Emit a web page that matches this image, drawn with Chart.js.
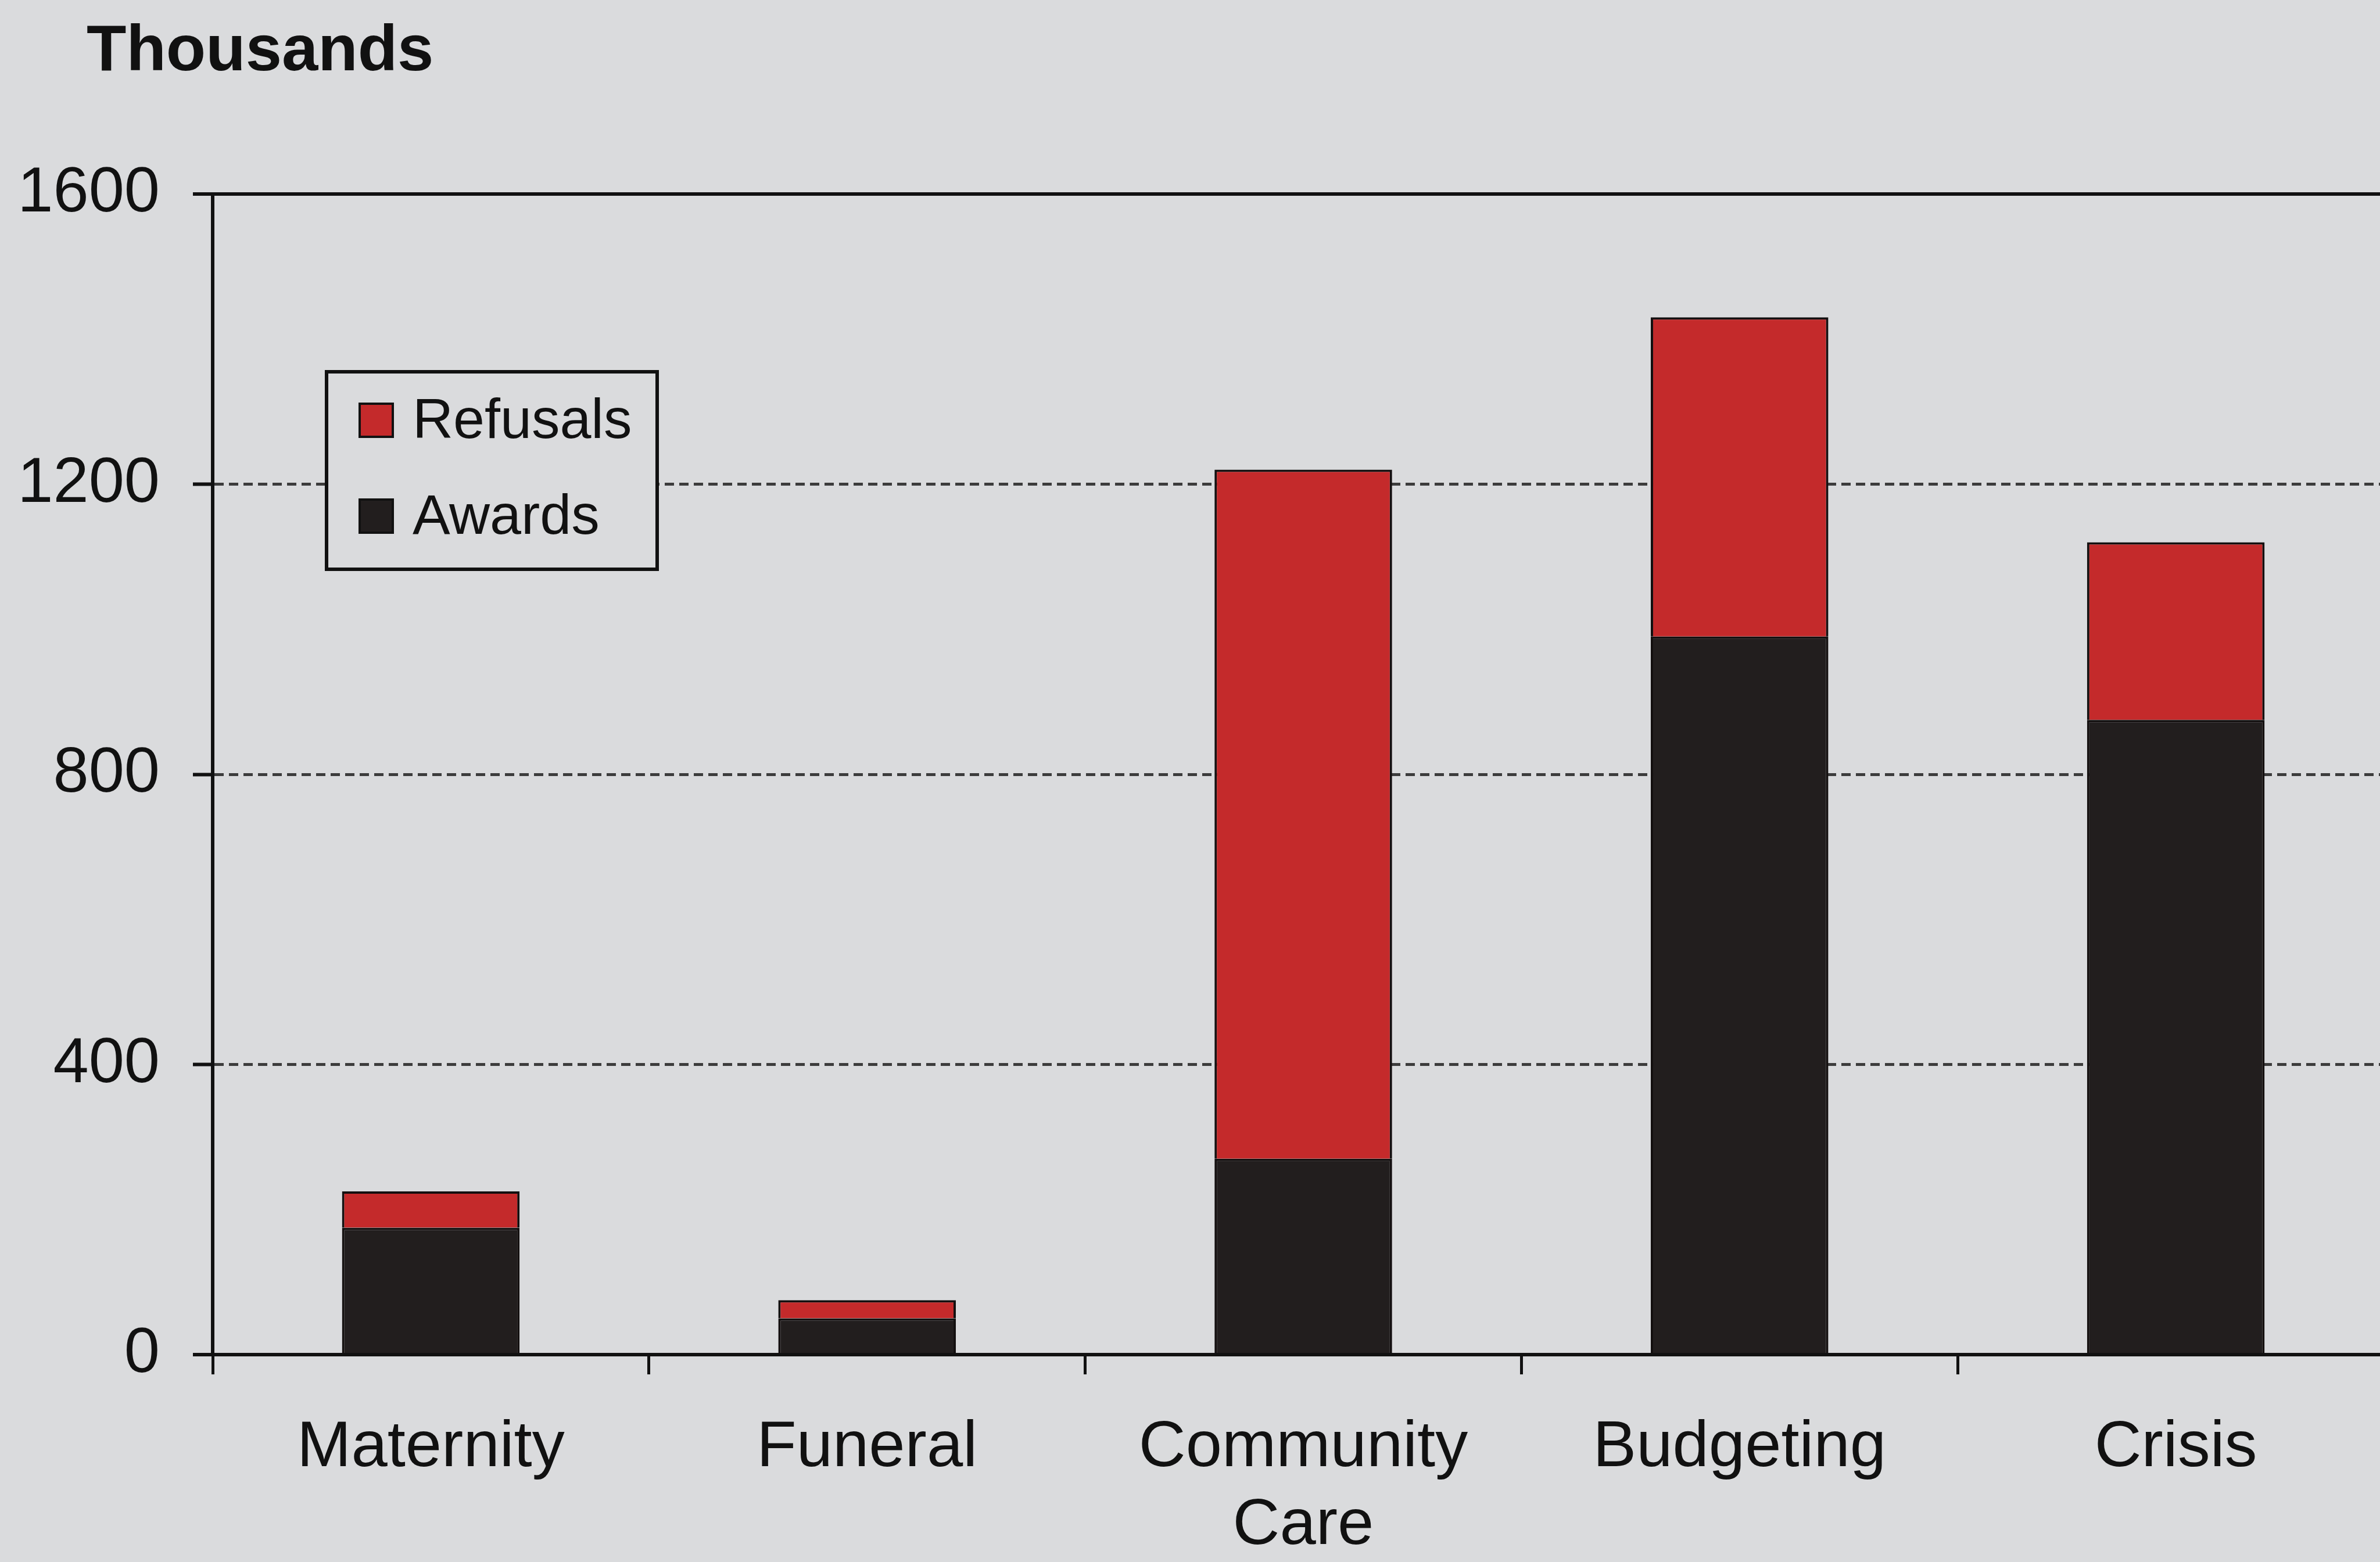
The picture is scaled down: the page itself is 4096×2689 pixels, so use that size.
<!DOCTYPE html>
<html>
<head>
<meta charset="utf-8">
<script src="https://cdn.jsdelivr.net/npm/chart.js@4/dist/chart.umd.min.js"></script>
<style>
  html, body { margin: 0; padding: 0; overflow: hidden; background: #dadbdd; }
  #wrap { width: 4125px; height: 2689px; }
</style>
</head>
<body>
<div id="wrap"><canvas id="chart" width="4125" height="2689"></canvas></div>
<script>
// claims in thousands
var categories = [['Maternity'], ['Funeral'], ['Community', 'Care'], ['Budgeting'], ['Crisis']];
var awards   = [175, 50, 270, 990, 875];
var refusals = [50, 25, 950, 440, 245];
var yTicks   = [0, 400, 800, 1200, 1600];

var RED  = '#c42a2b';
var DARK = '#221e1e';
var INK  = '#111';
var FONT = '"Liberation Sans", Arial, sans-serif';

// boxed legend sitting inside the plot, refusals listed first
var boxLegend = {
	id: 'boxLegend',
	afterDraw: function(chart) {
		var ctx = chart.ctx;
		var x = 562, y = 640, w = 569, h = 340;
		ctx.save();
		ctx.fillStyle = '#dadbdd';
		ctx.fillRect(x, y, w, h);
		ctx.lineWidth = 6;
		ctx.strokeStyle = INK;
		ctx.strokeRect(x, y, w, h);
		var items = chart.data.datasets.slice().reverse();
		ctx.font = '97px ' + FONT;
		ctx.textBaseline = 'middle';
		for (var i = 0; i < items.length; i++) {
			var cy = 723 + i * 165;
			ctx.fillStyle = items[i].backgroundColor;
			ctx.fillRect(619, cy - 28, 57, 57);
			ctx.lineWidth = 4;
			ctx.strokeStyle = INK;
			ctx.strokeRect(619, cy - 28, 57, 57);
			ctx.fillStyle = INK;
			ctx.fillText(items[i].label, 710, cy + 4);
		}
		ctx.restore();
	}
};

// units caption above the value axis
var unitsCaption = {
	id: 'unitsCaption',
	afterDraw: function(chart) {
		var ctx = chart.ctx;
		ctx.save();
		ctx.font = 'bold 112px ' + FONT;
		ctx.fillStyle = INK;
		ctx.textBaseline = 'middle';
		ctx.fillText('Thousands', 149, 90);
		ctx.restore();
	}
};

function isFrame(c) {
	return !c.tick || c.tick.value === 1600 || c.tick.value === 0;
}

new Chart(document.getElementById('chart'), {
	type: 'bar',
	data: {
		labels: categories,
		datasets: [
			{ label: 'Awards', data: awards, backgroundColor: DARK, borderColor: '#141010', borderWidth: 4 },
			{ label: 'Refusals', data: refusals, backgroundColor: RED, borderColor: '#141010', borderWidth: 4 }
		]
	},
	options: {
		responsive: false,
		animation: false,
		devicePixelRatio: 1,
		layout: { padding: { left: 30, top: 334, right: 5, bottom: 0 } },
		datasets: { bar: { categoryPercentage: 1, barPercentage: 0.407 } },
		plugins: {
			legend: { display: false },
			tooltip: { enabled: false }
		},
		scales: {
			x: {
				stacked: true,
				offset: true,
				afterFit: function(axis) {
					axis.height = 357;
					axis.paddingLeft = 0;
					axis.paddingRight = 0;
				},
				grid: {
					offset: true,
					drawOnChartArea: false,
					drawTicks: true,
					tickLength: 34,
					color: INK,
					lineWidth: 5
				},
				border: { color: INK, width: 6 },
				ticks: {
					color: INK,
					padding: 60,
					maxRotation: 0,
					autoSkip: false,
					font: { family: FONT, size: 112, lineHeight: 1.2 }
				}
			},
			y: {
				stacked: true,
				min: 0,
				max: 1600,
				afterFit: function(axis) { axis.width = 336; },
				afterBuildTicks: function(axis) {
					axis.ticks = yTicks.map(function(v) { return { value: v }; });
				},
				grid: {
					drawTicks: true,
					tickLength: 34,
					tickColor: INK,
					tickWidth: 6,
					color: function(c) { return isFrame(c) ? INK : '#3c3c3c'; },
					lineWidth: function(c) { return isFrame(c) ? 6 : 5; }
				},
				border: {
					color: INK,
					width: 6,
					dash: function(c) { return isFrame(c) ? [] : [16, 9]; }
				},
				ticks: {
					color: INK,
					padding: 57,
					font: { family: FONT, size: 110 },
					callback: function(v) { return String(v); }
				}
			}
		}
	},
	plugins: [boxLegend, unitsCaption]
});
</script>
</body>
</html>
